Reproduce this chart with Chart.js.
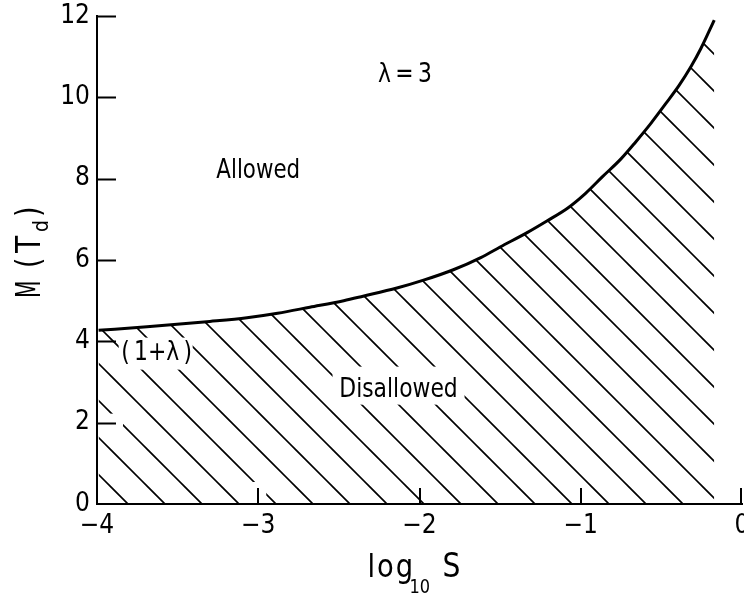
<!DOCTYPE html>
<html>
<head>
<meta charset="utf-8">
<script src="https://cdn.jsdelivr.net/npm/chart.js@4.4.1/dist/chart.umd.min.js"></script>
<style>
  html, body { margin: 0; background: #fff; }
  #wrap { width: 744px; height: 596px; }
</style>
</head>
<body>
<div id="wrap"><canvas id="chart"></canvas></div>
<script>
(() => {
  "use strict";

  // boundary curve M(T_d) vs log10 S
  const logS = [-3.99, -3.69, -3.30, -3.07, -2.88, -2.68, -2.47, -2.35, -2.14, -1.97, -1.79, -1.62, -1.50, -1.33, -1.21, -1.08, -0.97, -0.865, -0.752, -0.658, -0.565, -0.472, -0.389, -0.317, -0.255, -0.172];
  const massM = [4.27, 4.36, 4.49, 4.58, 4.69, 4.84, 5.00, 5.11, 5.31, 5.51, 5.76, 6.06, 6.32, 6.68, 6.96, 7.28, 7.64, 8.05, 8.48, 8.91, 9.36, 9.85, 10.30, 10.75, 11.20, 11.90];

  const xTicks = [-4, -3, -2, -1, 0];
  const yTicks = [0, 2, 4, 6, 8, 10, 12];

  const FONT = "'DejaVu Sans Condensed', 'Liberation Sans Narrow', sans-serif";
  const font = (size) => `${size}px ${FONT}`;

  function hatch() {
    const s = 37;
    const c = document.createElement("canvas");
    c.width = c.height = s;
    const g = c.getContext("2d");
    g.strokeStyle = "#000";
    g.lineWidth = 1.6;
    g.beginPath();
    g.moveTo(21, -10); g.lineTo(47, 16);
    g.moveTo(-10, -4); g.lineTo(40, 46);
    g.stroke();
    return g.createPattern(c, "repeat");
  }

  // narrow lettering: squeeze text horizontally around its anchor
  function narrowText(ctx, text, x, y, size, sx, align) {
    ctx.save();
    ctx.font = font(size);
    ctx.translate(x, y);
    ctx.scale(sx, 1);
    ctx.textAlign = align || "center";
    ctx.fillText(text, 0, 0);
    ctx.restore();
  }

  const deco = {
    id: "deco",
    afterDatasetsDraw(chart) {
      const { ctx, scales: { x, y } } = chart;
      ctx.save();
      ctx.fillStyle = "#fff";
      // small breaks in the hatching next to tick marks
      ctx.fillRect(x.left + 2, y.getPixelForValue(2) - 9, 24, 18);
      ctx.fillRect(x.getPixelForValue(-3) - 8, y.bottom - 22, 16, 20);

      const boxed = [
        { t: "(\u20091+\u03bb\u2009)", vx: -3.63, vy: 3.55, box: [-38, 36, -22, 10] },
        { t: "Disallowed", vx: -2.13, vy: 2.64, box: [-66, 66, -30, 8] }
      ];
      boxed.forEach((b) => {
        const px = x.getPixelForValue(b.vx);
        const py = y.getPixelForValue(b.vy);
        ctx.fillStyle = "#fff";
        ctx.fillRect(px + b.box[0], py + b.box[2], b.box[1] - b.box[0], b.box[3] - b.box[2]);
        ctx.fillStyle = "#000";
        narrowText(ctx, b.t, px, py, 27, 0.9);
      });

      ctx.fillStyle = "#000";
      narrowText(ctx, "Allowed", x.getPixelForValue(-3.0), y.getPixelForValue(8.02), 27, 0.88);
      narrowText(ctx, "\u03bb\u2009=\u20093", x.getPixelForValue(-2.09), y.getPixelForValue(10.38), 27, 0.9);
      ctx.restore();
    },
    afterDraw(chart) {
      const { ctx, scales: { x, y } } = chart;
      ctx.save();
      ctx.strokeStyle = "#000";
      ctx.lineWidth = 2;
      ctx.beginPath();
      yTicks.slice(1).forEach((v) => {
        const py = Math.round(y.getPixelForValue(v)) + 0.5;
        ctx.moveTo(x.left, py);
        ctx.lineTo(x.left + 19, py);
      });
      xTicks.slice(1).forEach((v) => {
        const px = Math.min(Math.round(x.getPixelForValue(v)), x.right - 1);
        ctx.moveTo(px, y.bottom);
        ctx.lineTo(px, y.bottom - 16);
      });
      ctx.stroke();

      // x title: log10 S
      ctx.fillStyle = "#000";
      const cx = (x.left + x.right) / 2;
      ctx.letterSpacing = "2px";
      narrowText(ctx, "log", cx - 52, 577, 32, 0.95, "left");
      ctx.letterSpacing = "0px";
      narrowText(ctx, "S", cx + 23, 577, 33, 0.95, "left");
      narrowText(ctx, "10", cx - 10, 593, 20, 0.9, "left");

      // y title: M ( T_d )
      const cy = (y.top + y.bottom) / 2;
      ctx.translate(40, cy + 38);
      ctx.rotate(-Math.PI / 2);
      narrowText(ctx, "M", 0, 0, 33, 0.68, "left");
      narrowText(ctx, "(", 30, 0, 33, 0.9, "left");
      narrowText(ctx, "T", 45, 0, 33, 0.95, "left");
      narrowText(ctx, ")", 81, 0, 33, 0.9, "left");
      narrowText(ctx, "d", 66, 8, 22, 0.95, "left");
      ctx.restore();
    }
  };

  new Chart(document.getElementById("chart"), {
    type: "line",
    data: {
      datasets: [{
        data: logS.map((v, i) => ({ x: v, y: massM[i] })),
        borderColor: "#000",
        borderWidth: 3,
        backgroundColor: hatch(),
        fill: "origin",
        pointRadius: 0,
        cubicInterpolationMode: "monotone"
      }]
    },
    options: {
      responsive: true,
      maintainAspectRatio: false,
      animation: false,
      events: [],
      layout: { padding: { top: 16, right: 2, left: 0, bottom: 0 } },
      plugins: { legend: { display: false }, tooltip: { enabled: false } },
      scales: {
        x: {
          type: "linear",
          min: -4,
          max: 0,
          afterBuildTicks: (s) => { s.ticks = xTicks.map((v) => ({ value: v })); },
          ticks: {
            color: "#000",
            font: { family: FONT, size: 26 },
            padding: 7,
            maxRotation: 0,
            autoSkip: false,
            callback: (v) => (v < 0 ? "\u2212" + Math.abs(v) : String(v))
          },
          grid: { display: false, drawTicks: false },
          border: { display: true, color: "#000", width: 2 },
          afterFit: (s) => { s.height = 92; s.paddingLeft = 0; s.paddingRight = 0; }
        },
        y: {
          min: 0,
          max: 12,
          afterBuildTicks: (s) => { s.ticks = yTicks.map((v) => ({ value: v })); },
          ticks: {
            color: "#000",
            font: { family: FONT, size: 26 },
            padding: 7
          },
          grid: { display: false, drawTicks: false },
          border: { display: true, color: "#000", width: 2 },
          afterFit: (s) => { s.width = 97; s.paddingTop = 0; s.paddingBottom = 0; }
        }
      }
    },
    plugins: [deco]
  });
})();
</script>
</body>
</html>
